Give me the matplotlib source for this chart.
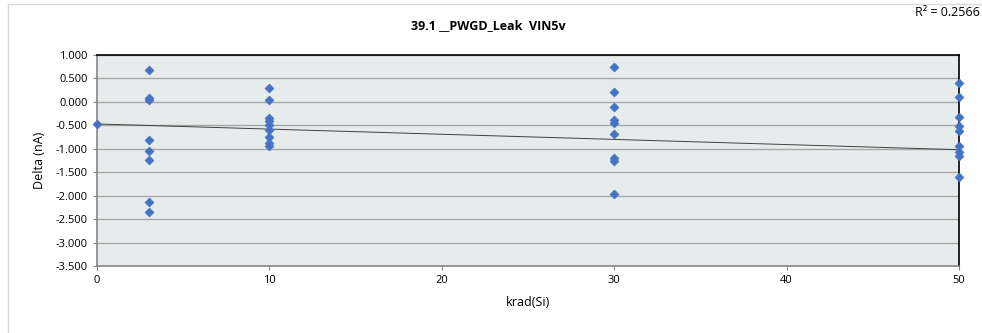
import numpy as np
import matplotlib
matplotlib.use("Agg")
import matplotlib.pyplot as plt
from matplotlib.lines import Line2D

plt.rcParams['font.family'] = ['Open Sans', 'DejaVu Sans']

title = "39.1 __PWGD_Leak  VIN5v"
x_label = "krad(Si)"
y_label = "Delta (nA)"
r2_label = "R² = 0.2566"

x0 = [0]
y0 = [-0.47]
x3 = [3] * 8
y3 = [0.68, 0.08, 0.04, -0.81, -1.04, -1.23, -2.13, -2.35]
x10 = [10] * 9
y10 = [0.30, 0.05, -0.35, -0.41, -0.50, -0.60, -0.74, -0.88, -0.95]
x30 = [30] * 9
y30 = [0.74, 0.22, -0.11, -0.38, -0.44, -0.69, -1.20, -1.27, -1.96]
x50 = [50] * 9
y50 = [0.40, 0.11, -0.33, -0.51, -0.63, -0.95, -1.06, -1.16, -1.60]

# trendline as shown in the reference
trend_x = [0, 50]
trend_y = [-0.47, -1.02]

xs = np.array(x0 + x3 + x10 + x30 + x50, dtype=float)
ys = np.array(y0 + y3 + y10 + y30 + y50, dtype=float)

y_ticks = [1.0, 0.5, 0.0, -0.5, -1.0, -1.5, -2.0, -2.5, -3.0, -3.5]
x_ticks = [0, 10, 20, 30, 40, 50]

fig = plt.figure(figsize=(9.82, 3.33), dpi=100)
fig.patch.set_facecolor('white')
# outer chart border (left and top visible)
fig.lines.append(Line2D([0.0085, 0.0085], [0.0, 0.988], transform=fig.transFigure,
                        color='#D9D9D9', linewidth=1.0))
fig.lines.append(Line2D([0.0085, 1.0], [0.988, 0.988], transform=fig.transFigure,
                        color='#D9D9D9', linewidth=1.0))

ax = fig.add_axes([0.0988, 0.2012, 0.8778, 0.6336])
ax.set_facecolor('#E6ECEC')

ax.set_xlim(0, 50)
ax.set_ylim(-3.5, 1.0)
ax.set_yticks(y_ticks)
ax.set_yticklabels([f"{v:.3f}" for v in y_ticks])
ax.set_xticks(x_ticks)
ax.yaxis.grid(True, color='#A6A6A6', linewidth=1.0)
ax.set_axisbelow(True)

for s in ['left', 'bottom']:
    ax.spines[s].set_color('#868686')
    ax.spines[s].set_linewidth(1.2)
for s in ['top', 'right']:
    ax.spines[s].set_color('black')
    ax.spines[s].set_linewidth(1.2)

ax.tick_params(axis='both', labelsize=8, colors='#868686', length=3, width=0.8)
ax.tick_params(axis='both', labelcolor='black')

ax.plot(trend_x, trend_y, color='#404040', linewidth=0.7, zorder=2)

ax.scatter(xs, ys, marker='D', s=22, color='#4472C4', edgecolors='#4472C4',
           linewidths=0.3, zorder=3, clip_on=False)

ax.set_xlabel(x_label, fontsize=9, labelpad=7)
ax.set_ylabel(y_label, fontsize=9, labelpad=7)

fig.text(0.497, 0.924, title, ha='center', va='center', fontsize=9, fontweight='bold')
fig.text(0.998, 0.963, r2_label, ha='right', va='center', fontsize=9)

fig.savefig("out.png", dpi=100)
